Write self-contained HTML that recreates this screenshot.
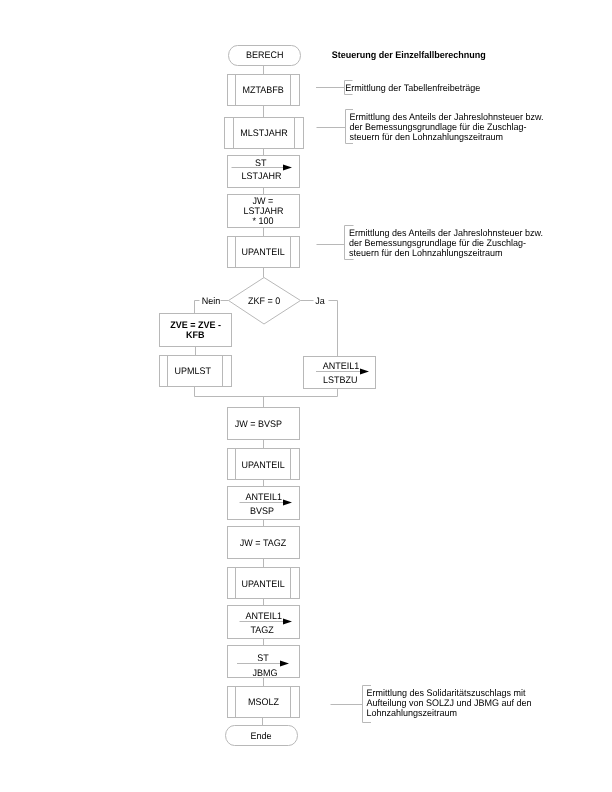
<!DOCTYPE html>
<html><head><meta charset="utf-8"><style>
html,body{margin:0;padding:0;background:#fff;width:612px;height:792px;overflow:hidden}
svg{display:block;will-change:transform}
</style></head><body>
<svg width="612" height="792" viewBox="0 0 612 792">
<g fill="none" stroke="#b8b8b8" stroke-width="1.0">
<rect x="228.5" y="45.5" width="72" height="20" rx="9" ry="10"/>
<line x1="263.5" y1="65.5" x2="263.5" y2="74.5"/>
<rect x="227.5" y="74.5" width="72" height="31"/>
<line x1="235.5" y1="74.5" x2="235.5" y2="105.5"/>
<line x1="290.5" y1="74.5" x2="290.5" y2="105.5"/>
<line x1="263.5" y1="105.5" x2="263.5" y2="117.5"/>
<rect x="224.5" y="117.5" width="79" height="31"/>
<line x1="233.5" y1="117.5" x2="233.5" y2="148.5"/>
<line x1="294.5" y1="117.5" x2="294.5" y2="148.5"/>
<line x1="263.5" y1="148.5" x2="263.5" y2="155.5"/>
<rect x="227.5" y="155.5" width="72" height="32"/>
<line x1="231.5" y1="167.5" x2="284" y2="167.5" />
<line x1="263.5" y1="187.5" x2="263.5" y2="194.5"/>
<rect x="227.5" y="194.5" width="72" height="33"/>
<line x1="263.5" y1="227.5" x2="263.5" y2="236.5"/>
<rect x="227.5" y="236.5" width="72" height="31"/>
<line x1="235.5" y1="236.5" x2="235.5" y2="267.5"/>
<line x1="290.5" y1="236.5" x2="290.5" y2="267.5"/>
<line x1="263.5" y1="267.5" x2="263.5" y2="277.5"/>
<polygon points="264,277.5 300.5,300.5 264,324 228.5,300.5"/>
<line x1="228.5" y1="300.5" x2="220.5" y2="300.5"/>
<line x1="199.5" y1="300.5" x2="194.5" y2="300.5"/>
<line x1="194.5" y1="300.5" x2="194.5" y2="313.5"/>
<rect x="159.5" y="313.5" width="72" height="33"/>
<line x1="195.5" y1="346.5" x2="195.5" y2="355.5"/>
<rect x="159.5" y="355.5" width="72" height="31"/>
<line x1="167.5" y1="355.5" x2="167.5" y2="386.5"/>
<line x1="222.5" y1="355.5" x2="222.5" y2="386.5"/>
<line x1="194.5" y1="386.5" x2="194.5" y2="396.5"/>
<line x1="194.5" y1="396.5" x2="337.5" y2="396.5"/>
<line x1="300.5" y1="300.5" x2="313.5" y2="300.5"/>
<line x1="328.5" y1="300.5" x2="337.5" y2="300.5"/>
<line x1="337.5" y1="300.5" x2="337.5" y2="356.5"/>
<rect x="303.5" y="356.5" width="72" height="32"/>
<line x1="316" y1="371.5" x2="361" y2="371.5" />
<line x1="337.5" y1="388.5" x2="337.5" y2="396.5"/>
<line x1="263.5" y1="396.5" x2="263.5" y2="407.5"/>
<rect x="227.5" y="407.5" width="72" height="32"/>
<line x1="263.5" y1="439.5" x2="263.5" y2="448.5"/>
<rect x="227.5" y="448.5" width="72" height="31"/>
<line x1="235.5" y1="448.5" x2="235.5" y2="479.5"/>
<line x1="290.5" y1="448.5" x2="290.5" y2="479.5"/>
<line x1="263.5" y1="479.5" x2="263.5" y2="486.5"/>
<rect x="227.5" y="486.5" width="72" height="33"/>
<line x1="239.5" y1="502.5" x2="284" y2="502.5" />
<line x1="263.5" y1="519.5" x2="263.5" y2="526.5"/>
<rect x="227.5" y="526.5" width="72" height="32"/>
<line x1="263.5" y1="558.5" x2="263.5" y2="567.5"/>
<rect x="227.5" y="567.5" width="72" height="31"/>
<line x1="235.5" y1="567.5" x2="235.5" y2="598.5"/>
<line x1="290.5" y1="567.5" x2="290.5" y2="598.5"/>
<line x1="263.5" y1="598.5" x2="263.5" y2="605.5"/>
<rect x="227.5" y="605.5" width="72" height="33"/>
<line x1="239.5" y1="621.5" x2="284" y2="621.5" />
<line x1="263.5" y1="638.5" x2="263.5" y2="645.5"/>
<rect x="227.5" y="645.5" width="72" height="32"/>
<line x1="237" y1="663.5" x2="281" y2="663.5" />
<line x1="263.5" y1="677.5" x2="263.5" y2="686.5"/>
<rect x="227.5" y="686.5" width="72" height="31"/>
<line x1="235.5" y1="686.5" x2="235.5" y2="717.5"/>
<line x1="290.5" y1="686.5" x2="290.5" y2="717.5"/>
<line x1="262.5" y1="717.5" x2="262.5" y2="725.5"/>
<rect x="225.5" y="725.5" width="72" height="20" rx="9" ry="10"/>
<line x1="316" y1="87.5" x2="344.5" y2="87.5"/>
<polyline points="352.5,80.5 344.5,80.5 344.5,94.5 352.5,94.5"/>
<line x1="316.5" y1="127.5" x2="345.5" y2="127.5"/>
<polyline points="353,109.5 345.5,109.5 345.5,143.5 353,143.5"/>
<line x1="316.5" y1="244.5" x2="344.5" y2="244.5"/>
<polyline points="353.5,225.5 344.5,225.5 344.5,259.5 353.5,259.5"/>
<line x1="330.5" y1="704.5" x2="362.5" y2="704.5"/>
<polyline points="371,685.5 362.5,685.5 362.5,722.5 371,722.5"/>
</g>
<g fill="#000">
<polygon points="283,164.5 292,167.5 283,170.5"/>
<polygon points="360,368.5 369,371.5 360,374.5"/>
<polygon points="283,499.5 292,502.5 283,505.5"/>
<polygon points="283,618.5 292,621.5 283,624.5"/>
<polygon points="280,660.5 289,663.5 280,666.5"/>
</g>
<g fill="#000000" font-family="Liberation Sans, sans-serif" font-size="9" text-rendering="geometricPrecision">
<text transform="translate(246,58) scale(1,1.06)">BERECH</text>
<text transform="translate(242.5,93) scale(1,1.06)">MZTABFB</text>
<text transform="translate(240.2,136) scale(1,1.06)">MLSTJAHR</text>
<text transform="translate(255,166.3) scale(1,1.06)">ST</text>
<text transform="translate(241.5,178.6) scale(1,1.06)">LSTJAHR</text>
<text transform="translate(252.5,203.9) scale(1,1.06)">JW =</text>
<text transform="translate(243.5,213.7) scale(1,1.06)">LSTJAHR</text>
<text transform="translate(252.5,223.5) scale(1,1.06)">* 100</text>
<text transform="translate(241.5,254.8) scale(1,1.06)">UPANTEIL</text>
<text transform="translate(248,303.9) scale(1,1.06)">ZKF = 0</text>
<text transform="translate(201.7,303.7) scale(1,1.06)">Nein</text>
<text transform="translate(170.2,327.9) scale(1,1.06)" font-weight="bold">ZVE = ZVE -</text>
<text transform="translate(186,338.3) scale(1,1.06)" font-weight="bold">KFB</text>
<text transform="translate(174.6,374.3) scale(1,1.06)">UPMLST</text>
<text transform="translate(315.3,303.7) scale(1,1.06)">Ja</text>
<text transform="translate(322.8,369) scale(1,1.06)">ANTEIL1</text>
<text transform="translate(323,382.8) scale(1,1.06)">LSTBZU</text>
<text transform="translate(234.7,426.9) scale(1,1.06)">JW = BVSP</text>
<text transform="translate(241.5,467.7) scale(1,1.06)">UPANTEIL</text>
<text transform="translate(245.5,499.7) scale(1,1.06)">ANTEIL1</text>
<text transform="translate(250,514) scale(1,1.06)">BVSP</text>
<text transform="translate(239.8,546) scale(1,1.06)">JW = TAGZ</text>
<text transform="translate(241.5,586.6) scale(1,1.06)">UPANTEIL</text>
<text transform="translate(245.5,618.5) scale(1,1.06)">ANTEIL1</text>
<text transform="translate(250.5,632.7) scale(1,1.06)">TAGZ</text>
<text transform="translate(257.3,660.9) scale(1,1.06)">ST</text>
<text transform="translate(252.4,675.6) scale(1,1.06)">JBMG</text>
<text transform="translate(248,705.4) scale(1,1.06)">MSOLZ</text>
<text transform="translate(250.5,738.9) scale(1,1.06)">Ende</text>
<text transform="translate(331.8,58) scale(1,1.06)" font-weight="bold">Steuerung der Einzelfallberechnung</text>
<text transform="translate(345.3,91) scale(1,1.06)">Ermittlung der Tabellenfreibeträge</text>
<text transform="translate(349.5,120) scale(1,1.06)">Ermittlung des Anteils der Jahreslohnsteuer bzw.</text>
<text transform="translate(349.5,129.8) scale(1,1.06)">der Bemessungsgrundlage für die Zuschlag-</text>
<text transform="translate(349.5,139.6) scale(1,1.06)">steuern für den Lohnzahlungszeitraum</text>
<text transform="translate(349,235.8) scale(1,1.06)">Ermittlung des Anteils der Jahreslohnsteuer bzw.</text>
<text transform="translate(349,246) scale(1,1.06)">der Bemessungsgrundlage für die Zuschlag-</text>
<text transform="translate(349,255.6) scale(1,1.06)">steuern für den Lohnzahlungszeitraum</text>
<text transform="translate(366.5,696.2) scale(1,1.06)">Ermittlung des Solidaritätszuschlags mit</text>
<text transform="translate(366.5,706) scale(1,1.06)">Aufteilung von SOLZJ und JBMG auf den</text>
<text transform="translate(366.5,715.8) scale(1,1.06)">Lohnzahlungszeitraum</text>
</g>
</svg>
</body></html>
